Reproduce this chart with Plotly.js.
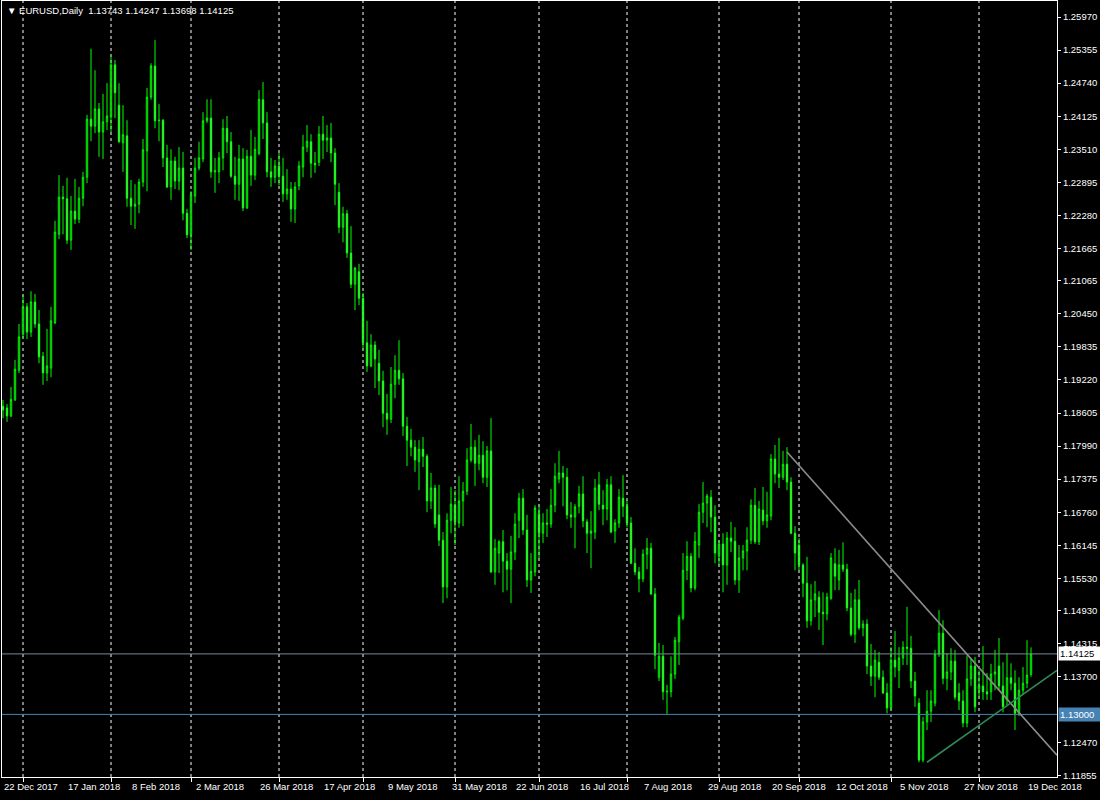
<!DOCTYPE html>
<html>
<head>
<meta charset="utf-8">
<script src="https://cdn.plot.ly/plotly-3.0.1.min.js"></script>
<style>html,body{margin:0;padding:0;background:#000;}#chart{width:1100px;height:800px;}</style>
</head>
<body>
<div id="chart"></div>
<script>
// ---- calendar (trading days shown on the chart) ----
const firstDay = '2017-12-22';
const lastDay = '2018-12-20';
const closedDays = ['2017-12-25', '2018-01-01'];
function tradingDays(a, b, skip) {
  const out = [];
  const d = new Date(a + 'T00:00:00Z'), end = new Date(b + 'T00:00:00Z');
  while (d <= end) {
    const wd = d.getUTCDay();
    const s = d.toISOString().slice(0, 10);
    if (wd !== 0 && wd !== 6 && skip.indexOf(s) < 0) out.push(s);
    d.setUTCDate(d.getUTCDate() + 1);
  }
  return out;
}
const dates = tradingDays(firstDay, lastDay, closedDays);

// ---- EURUSD daily OHLC ----
const open = [1.1873,1.1870,1.1855,1.1885,1.1940,1.2007,1.2058,1.2011,1.2067,1.2026,
1.1966,1.1935,1.1944,1.2028,1.2193,1.2262,1.2259,1.2182,1.2236,1.2221,
1.2260,1.2299,1.2407,1.2394,1.2426,1.2383,1.2402,1.2411,1.2508,1.2433,
1.2363,1.2376,1.2260,1.2245,1.2249,1.2290,1.2348,1.2448,1.2506,1.2404,
1.2405,1.2335,1.2281,1.2329,1.2292,1.2316,1.2232,1.2192,1.2264,1.2316,
1.2333,1.2404,1.2409,1.2309,1.2309,1.2335,1.2390,1.2365,1.2301,1.2286,
1.2333,1.2242,1.2338,1.2303,1.2343,1.2443,1.2400,1.2309,1.2299,1.2320,
1.2301,1.2268,1.2277,1.2240,1.2283,1.2318,1.2355,1.2365,1.2325,1.2327,
1.2379,1.2368,1.2372,1.2344,1.2271,1.2206,1.2231,1.2158,1.2100,1.2123,
1.2074,1.1991,1.1948,1.1987,1.1953,1.1920,1.1860,1.1849,1.1914,1.1940,
1.1924,1.1836,1.1810,1.1797,1.1770,1.1793,1.1780,1.1697,1.1721,1.1671,
1.1624,1.1537,1.1661,1.1689,1.1656,1.1697,1.1715,1.1773,1.1797,1.1767,
1.1782,1.1741,1.1790,1.1565,1.1600,1.1621,1.1585,1.1570,1.1602,1.1661,
1.1702,1.1643,1.1550,1.1565,1.1673,1.1637,1.1656,1.1654,1.1689,1.1738,
1.1749,1.1741,1.1671,1.1667,1.1687,1.1710,1.1658,1.1637,1.1639,1.1727,
1.1689,1.1682,1.1727,1.1641,1.1656,1.1702,1.1687,1.1656,1.1581,1.1565,
1.1552,1.1598,1.1609,1.1524,1.1369,1.1408,1.1342,1.1342,1.1375,1.1435,
1.1479,1.1568,1.1594,1.1535,1.1615,1.1676,1.1693,1.1704,1.1667,1.1594,
1.1617,1.1578,1.1628,1.1622,1.1550,1.1591,1.1604,1.1624,1.1689,1.1621,
1.1680,1.1660,1.1669,1.1775,1.1747,1.1741,1.1765,1.1732,1.1637,1.1615,
1.1578,1.1544,1.1474,1.1513,1.1518,1.1490,1.1487,1.1516,1.1580,1.1550,
1.1578,1.1570,1.1498,1.1449,1.1513,1.1461,1.1468,1.1390,1.1371,1.1397,
1.1369,1.1340,1.1312,1.1401,1.1382,1.1405,1.1425,1.1423,1.1362,1.1321,
1.1215,1.1286,1.1306,1.1321,1.1412,1.1451,1.1367,1.1379,1.1399,1.1340,
1.1325,1.1284,1.1366,1.1390,1.1347,1.1353,1.1342,1.1342,1.1375,1.1390,
1.1353,1.1327,1.1368,1.1358,1.1302,1.1345,1.1358,1.13743];

const high = [1.1885,1.1877,1.1909,1.1959,1.2026,1.2080,1.2065,1.2087,1.2082,1.2052,
1.1974,1.2017,1.2058,1.2218,1.2303,1.2283,1.2298,1.2264,1.2296,1.2281,
1.2309,1.2415,1.2538,1.2498,1.2437,1.2454,1.2474,1.2523,1.2517,1.2474,
1.2433,1.2405,1.2294,1.2286,1.2296,1.2370,1.2465,1.2511,1.2554,1.2435,
1.2407,1.2359,1.2351,1.2337,1.2355,1.2346,1.2240,1.2273,1.2335,1.2365,
1.2420,1.2444,1.2444,1.2335,1.2346,1.2407,1.2413,1.2383,1.2337,1.2359,
1.2353,1.2350,1.2387,1.2374,1.2461,1.2476,1.2420,1.2335,1.2331,1.2344,
1.2335,1.2314,1.2290,1.2290,1.2329,1.2378,1.2396,1.2379,1.2346,1.2394,
1.2413,1.2396,1.2400,1.2353,1.2288,1.2244,1.2238,1.2208,1.2132,1.2138,
1.2084,1.2032,1.2007,1.1994,1.1978,1.1939,1.1896,1.1946,1.1968,1.1996,
1.1935,1.1853,1.1831,1.1810,1.1810,1.1816,1.1784,1.1749,1.1727,1.1727,
1.1639,1.1674,1.1723,1.1717,1.1743,1.1732,1.1795,1.1840,1.1810,1.1820,
1.1808,1.1799,1.1851,1.1626,1.1624,1.1643,1.1600,1.1632,1.1674,1.1712,
1.1719,1.1671,1.1600,1.1689,1.1687,1.1674,1.1682,1.1719,1.1767,1.1790,
1.1762,1.1758,1.1695,1.1691,1.1725,1.1743,1.1663,1.1678,1.1738,1.1751,
1.1717,1.1738,1.1743,1.1663,1.1719,1.1745,1.1699,1.1667,1.1609,1.1574,
1.1607,1.1628,1.1619,1.1535,1.1433,1.1429,1.1355,1.1408,1.1444,1.1485,
1.1600,1.1622,1.1600,1.1639,1.1691,1.1732,1.1710,1.1717,1.1689,1.1624,
1.1637,1.1639,1.1658,1.1648,1.1615,1.1615,1.1648,1.1700,1.1721,1.1697,
1.1723,1.1714,1.1784,1.1801,1.1814,1.1790,1.1797,1.1741,1.1650,1.1628,
1.1581,1.1593,1.1542,1.1548,1.1529,1.1527,1.1526,1.1600,1.1609,1.1606,
1.1620,1.1580,1.1526,1.1533,1.1550,1.1475,1.1477,1.1431,1.1420,1.1416,
1.1382,1.1358,1.1425,1.1455,1.1425,1.1436,1.1500,1.1446,1.1379,1.1330,
1.1295,1.1345,1.1345,1.1420,1.1494,1.1475,1.1414,1.1423,1.1420,1.1358,
1.1345,1.1410,1.1405,1.1407,1.1382,1.1427,1.1377,1.1394,1.1420,1.1442,
1.1397,1.1414,1.1395,1.1382,1.1369,1.1388,1.1438,1.14247];

const low = [1.1851,1.1844,1.1853,1.1883,1.1935,1.2000,1.1998,1.2002,1.2019,1.1953,
1.1913,1.1920,1.1927,1.2026,1.2184,1.2193,1.2175,1.2164,1.2212,1.2214,
1.2245,1.2288,1.2366,1.2381,1.2337,1.2333,1.2387,1.2383,1.2409,1.2363,
1.2309,1.2244,1.2210,1.2203,1.2232,1.2281,1.2273,1.2443,1.2390,1.2366,
1.2318,1.2279,1.2257,1.2277,1.2275,1.2219,1.2186,1.2164,1.2251,1.2312,
1.2327,1.2400,1.2298,1.2270,1.2288,1.2312,1.2344,1.2298,1.2257,1.2255,
1.2236,1.2240,1.2283,1.2294,1.2340,1.2370,1.2299,1.2281,1.2288,1.2284,
1.2253,1.2257,1.2216,1.2214,1.2275,1.2299,1.2346,1.2298,1.2307,1.2320,
1.2333,1.2346,1.2327,1.2247,1.2195,1.2178,1.2149,1.2093,1.2052,1.2061,
1.1978,1.1937,1.1946,1.1907,1.1894,1.1834,1.1820,1.1842,1.1888,1.1913,
1.1818,1.1762,1.1780,1.1751,1.1717,1.1760,1.1676,1.1682,1.1647,1.1613,
1.1507,1.1516,1.1637,1.1615,1.1647,1.1650,1.1708,1.1769,1.1725,1.1754,
1.1730,1.1723,1.1563,1.1541,1.1563,1.1527,1.1531,1.1507,1.1587,1.1628,
1.1634,1.1537,1.1526,1.1557,1.1589,1.1619,1.1630,1.1647,1.1676,1.1730,
1.1687,1.1663,1.1647,1.1609,1.1674,1.1648,1.1600,1.1572,1.1626,1.1680,
1.1652,1.1661,1.1637,1.1619,1.1647,1.1667,1.1648,1.1580,1.1559,1.1527,
1.1546,1.1570,1.1522,1.1384,1.1362,1.1327,1.1301,1.1332,1.1366,1.1392,
1.1475,1.1550,1.1527,1.1531,1.1591,1.1656,1.1648,1.1639,1.1581,1.1578,
1.1527,1.1541,1.1602,1.1541,1.1526,1.1568,1.1568,1.1617,1.1617,1.1615,
1.1652,1.1647,1.1661,1.1730,1.1721,1.1736,1.1717,1.1635,1.1568,1.1568,
1.1518,1.1461,1.1465,1.1481,1.1457,1.1429,1.1475,1.1513,1.1531,1.1531,
1.1565,1.1492,1.1445,1.1433,1.1457,1.1445,1.1375,1.1353,1.1332,1.1364,
1.1338,1.1302,1.1308,1.1369,1.1349,1.1392,1.1392,1.1349,1.1314,1.1211,
1.1211,1.1271,1.1286,1.1315,1.1407,1.1356,1.1345,1.1364,1.1327,1.1308,
1.1276,1.1276,1.1353,1.1304,1.1332,1.1327,1.1327,1.1327,1.1345,1.1345,
1.1304,1.1317,1.1345,1.1271,1.1297,1.1336,1.1349,1.13698];

const close = [1.1866,1.1855,1.1886,1.1942,1.2002,1.2058,1.2011,1.2067,1.2026,1.1965,
1.1935,1.1948,1.2032,1.2197,1.2262,1.2259,1.2182,1.2236,1.2221,1.2260,
1.2299,1.2407,1.2394,1.2426,1.2383,1.2402,1.2413,1.2508,1.2456,1.2365,
1.2378,1.2260,1.2245,1.2249,1.2290,1.2350,1.2448,1.2506,1.2404,1.2405,
1.2335,1.2281,1.2329,1.2292,1.2316,1.2232,1.2192,1.2266,1.2316,1.2335,
1.2404,1.2409,1.2309,1.2311,1.2335,1.2390,1.2365,1.2301,1.2286,1.2333,
1.2242,1.2338,1.2303,1.2351,1.2444,1.2400,1.2309,1.2299,1.2320,1.2301,
1.2268,1.2277,1.2240,1.2281,1.2320,1.2355,1.2366,1.2325,1.2322,1.2379,
1.2368,1.2372,1.2344,1.2286,1.2206,1.2231,1.2158,1.2100,1.2130,1.2074,
1.1991,1.1948,1.1987,1.1961,1.1920,1.1860,1.1849,1.1914,1.1940,1.1924,
1.1836,1.1810,1.1797,1.1773,1.1793,1.1780,1.1697,1.1721,1.1654,1.1624,
1.1537,1.1661,1.1691,1.1658,1.1697,1.1715,1.1773,1.1797,1.1767,1.1782,
1.1741,1.1790,1.1565,1.1609,1.1621,1.1585,1.1570,1.1602,1.1654,1.1702,
1.1643,1.1550,1.1566,1.1684,1.1637,1.1656,1.1654,1.1689,1.1743,1.1749,
1.1741,1.1671,1.1667,1.1686,1.1710,1.1660,1.1637,1.1641,1.1721,1.1691,
1.1682,1.1727,1.1639,1.1656,1.1704,1.1687,1.1656,1.1581,1.1565,1.1552,
1.1598,1.1609,1.1524,1.1410,1.1408,1.1342,1.1343,1.1375,1.1438,1.1481,
1.1568,1.1594,1.1535,1.1622,1.1676,1.1693,1.1706,1.1667,1.1600,1.1617,
1.1578,1.1628,1.1622,1.1550,1.1591,1.1604,1.1624,1.1689,1.1621,1.1682,
1.1660,1.1671,1.1775,1.1747,1.1741,1.1765,1.1732,1.1637,1.1600,1.1578,
1.1544,1.1474,1.1513,1.1524,1.1490,1.1487,1.1518,1.1591,1.1557,1.1578,
1.1570,1.1498,1.1449,1.1513,1.1461,1.1468,1.1390,1.1371,1.1401,1.1369,
1.1340,1.1312,1.1401,1.1388,1.1405,1.1425,1.1423,1.1362,1.1334,1.1215,
1.1286,1.1306,1.1325,1.1412,1.1451,1.1367,1.1379,1.1399,1.1332,1.1325,
1.1284,1.1366,1.1390,1.1314,1.1353,1.1342,1.1338,1.1375,1.1379,1.1353,
1.1314,1.1368,1.1358,1.1302,1.1345,1.1358,1.1373,1.14125];

// ---- axis labels ----
const priceTickText = ['1.25970','1.25355','1.24740','1.24125','1.23510','1.22895','1.22280','1.21665',
  '1.21065','1.20450','1.19835','1.19220','1.18605','1.17990','1.17375','1.16760','1.16145','1.15530',
  '1.14930','1.14315','1.13700','1.12470','1.11855'];
const dateLabelDays = ['2017-12-22','2018-01-17','2018-02-08','2018-03-02','2018-03-26','2018-04-17',
  '2018-05-09','2018-05-31','2018-06-22','2018-07-16','2018-08-07','2018-08-29','2018-09-20',
  '2018-10-12','2018-11-05','2018-11-27','2018-12-19'];
const dateLabelText = ['22 Dec 2017','17 Jan 2018','8 Feb 2018','2 Mar 2018','26 Mar 2018','17 Apr 2018',
  '9 May 2018','31 May 2018','22 Jun 2018','16 Jul 2018','7 Aug 2018','29 Aug 2018','20 Sep 2018',
  '12 Oct 2018','5 Nov 2018','27 Nov 2018','19 Dec 2018'];

// ---- chart objects ----
const symbolTitle = 'EURUSD,Daily';
const bidPrice = 1.14125;
const levelPrice = 1.13000;
const levelText = '1.13000';
const grayTrend = {x: [196, 263.5], y: [1.1788, 1.1224]};
const greenTrend = {x: [231, 263.5], y: [1.1211, 1.1382]};

const FONT = '"Liberation Sans", Arial, sans-serif';
const FS = 9.5;

// month starts for vertical grid
const monthStarts = [];
for (let i = 1; i < dates.length; i++) {
  if (dates[i].slice(0, 7) !== dates[i - 1].slice(0, 7)) monthStarts.push(i);
}

const shapes = [];
monthStarts.forEach(function (i) {
  shapes.push({type: 'line', xref: 'x', yref: 'paper', x0: i, x1: i, y0: 0, y1: 1,
    line: {color: '#ffffff', width: 1, dash: '3px,3px'}, layer: 'below'});
});
shapes.push({type: 'line', xref: 'paper', yref: 'y', x0: 0, x1: 1, y0: bidPrice, y1: bidPrice,
  line: {color: '#778899', width: 1}});
shapes.push({type: 'line', xref: 'paper', yref: 'y', x0: 0, x1: 1, y0: levelPrice, y1: levelPrice,
  line: {color: '#4682B4', width: 1}});
shapes.push({type: 'line', xref: 'x', yref: 'y', x0: grayTrend.x[0], x1: grayTrend.x[1],
  y0: grayTrend.y[0], y1: grayTrend.y[1], line: {color: '#8c8c8c', width: 1.6}});
shapes.push({type: 'line', xref: 'x', yref: 'y', x0: greenTrend.x[0], x1: greenTrend.x[1],
  y0: greenTrend.y[0], y1: greenTrend.y[1], line: {color: '#2E8B57', width: 1.6}});

const annotations = [];
dateLabelDays.forEach(function (d, k) {
  annotations.push({xref: 'x', yref: 'paper', x: dates.indexOf(d), y: 0, xanchor: 'left', yanchor: 'top',
    yshift: -2, xshift: -1, text: dateLabelText[k], showarrow: false,
    font: {family: FONT, size: FS, color: '#ffffff'}});
});
annotations.push({xref: 'paper', yref: 'paper', x: 0.003, y: 1, xanchor: 'left', yanchor: 'top', yshift: -2,
  showarrow: false, font: {family: FONT, size: FS, color: '#ffffff'},
  text: '\u25BC ' + symbolTitle + '\u00A0\u00A0' + open[open.length - 1].toFixed(5) + ' ' +
    high[high.length - 1].toFixed(5) + ' ' + low[low.length - 1].toFixed(5) + ' ' +
    close[close.length - 1].toFixed(5)});
annotations.push({xref: 'paper', yref: 'y', x: 1, y: bidPrice, xanchor: 'left', yanchor: 'middle', xshift: 1,
  showarrow: false, text: bidPrice.toFixed(5), bgcolor: '#ffffff', borderpad: 1, width: 40, align: 'left',
  font: {family: FONT, size: FS, color: '#000000'}});
annotations.push({xref: 'paper', yref: 'y', x: 1, y: levelPrice, xanchor: 'left', yanchor: 'middle', xshift: 1,
  showarrow: false, text: levelText, bgcolor: '#4682B4', borderpad: 1, width: 40, align: 'left',
  font: {family: FONT, size: FS, color: '#ffffff'}});

const trace = {
  type: 'candlestick', x: dates, open: open, high: high, low: low, close: close,
  increasing: {line: {color: '#00ff00', width: 1}, fillcolor: '#000000'},
  decreasing: {line: {color: '#00ff00', width: 1}, fillcolor: '#ffffff'},
  whiskerwidth: 0, hoverinfo: 'skip', showlegend: false
};

const layout = {
  width: 1100, height: 800,
  margin: {l: 2, r: 43, t: 1, b: 23, pad: 0},
  paper_bgcolor: '#000000', plot_bgcolor: '#000000',
  showlegend: false, boxgap: 0.5,
  font: {family: FONT, size: FS, color: '#ffffff'},
  xaxis: {type: 'category', range: [-0.25, 263.5], rangeslider: {visible: false},
    showgrid: false, zeroline: false, showline: true, linecolor: '#ffffff', linewidth: 1, mirror: true,
    tickmode: 'array', tickvals: monthStarts.map(function (i) { return dates[i]; }),
    ticks: 'outside', ticklen: 4, tickcolor: '#ffffff', showticklabels: false, fixedrange: true},
  yaxis: {side: 'right', range: [1.118357, 1.262676], showgrid: false, zeroline: false,
    showline: true, linecolor: '#ffffff', linewidth: 1, mirror: true,
    tickmode: 'array', tickvals: priceTickText.map(parseFloat), ticktext: priceTickText,
    ticks: 'outside', ticklen: 3, tickcolor: '#ffffff',
    tickfont: {family: FONT, size: FS, color: '#ffffff'}, fixedrange: true},
  shapes: shapes, annotations: annotations
};

Plotly.newPlot('chart', [trace], layout, {displayModeBar: false, staticPlot: true});
</script>
</body>
</html>
